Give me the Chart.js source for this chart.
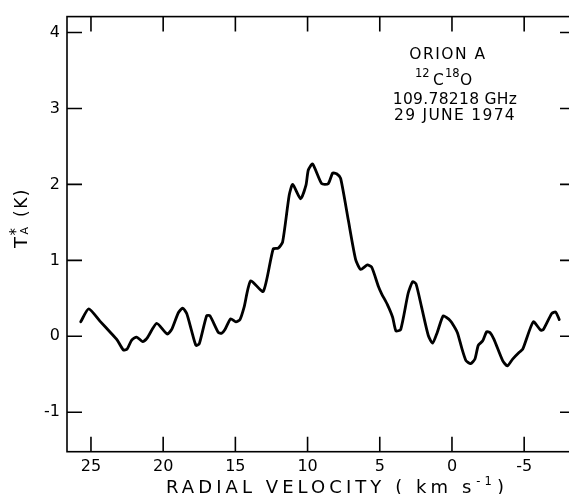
<!DOCTYPE html>
<html><head><meta charset="utf-8">
<script src="https://cdn.jsdelivr.net/npm/chart.js@4"></script>
<style>
html,body{margin:0;padding:0;background:#fff;overflow:hidden;}
#wrap{width:569px;height:494px;overflow:hidden;position:relative;}
canvas{display:block;}
</style>
</head><body>
<div id="wrap"><canvas id="c" width="590" height="494"></canvas></div>
<script>
// Radial velocity (km/s) and antenna temperature T*A (K)
const velocity = [25.71,25.16,24.38,23.65,23.18,22.76,22.50,22.18,21.84,21.42,21.10,20.45,19.72,19.41,18.95,18.65,18.37,18.03,17.73,17.50,16.99,16.76,16.18,15.95,15.72,15.33,14.96,14.68,14.40,13.94,13.07,12.38,12.03,11.73,11.27,11.03,10.48,10.11,9.95,9.65,9.02,8.57,8.26,7.99,7.71,7.18,6.67,6.32,5.86,5.56,5.10,4.87,4.48,4.11,3.88,3.55,3.03,2.72,2.49,2.10,1.64,1.34,1.02,0.60,0.19,0.02,-0.37,-0.67,-0.97,-1.29,-1.59,-1.82,-2.13,-2.40,-2.63,-2.91,-3.51,-3.83,-4.20,-4.66,-4.90,-5.63,-6.14,-6.33,-6.91,-7.18,-7.43];
const antennaTemp = [0.19,0.36,0.20,0.05,-0.05,-0.18,-0.17,-0.05,-0.01,-0.07,-0.02,0.17,0.03,0.09,0.31,0.37,0.30,0.07,-0.12,-0.10,0.27,0.27,0.05,0.04,0.09,0.23,0.19,0.22,0.38,0.73,0.59,1.15,1.16,1.24,1.86,2.00,1.81,1.99,2.19,2.27,2.01,2.01,2.15,2.14,2.08,1.53,1.01,0.88,0.94,0.91,0.66,0.56,0.42,0.25,0.07,0.09,0.57,0.72,0.69,0.38,0.01,-0.09,0.05,0.27,0.22,0.18,0.05,-0.15,-0.32,-0.36,-0.30,-0.12,-0.06,0.06,0.05,-0.04,-0.32,-0.39,-0.30,-0.21,-0.17,0.19,0.08,0.09,0.30,0.32,0.22];
const xTickValues = [25,20,15,10,5,0,-5];
const yTickValues = [-1,0,1,2,3,4];
const xRange = [-8.52, 26.66];
const yRange = [-1.52, 4.21];
const xTitleMain = "RADIAL VELOCITY ( km s";
const xTitleSup = "-1";
const xTitleEnd = ")";
const yTitle = ["T", "*", "A", "(K)"];
const noteLines = ["ORION A", "109.78218 GHz", "29 JUNE 1974"];
const isotope = ["12", "C", "18", "O"];

const FONT = '"DejaVu Sans", sans-serif';
const points = velocity.map((v, i) => ({x: v, y: antennaTemp[i]}));

const framePlugin = {
  id: 'frame',
  afterDatasetsDraw(chart) {
    const {ctx, chartArea: a, scales: {x, y}} = chart;
    ctx.save();
    ctx.strokeStyle = '#000';
    ctx.lineWidth = 1.6;
    ctx.strokeRect(a.left, a.top, a.right - a.left, a.bottom - a.top);
    ctx.beginPath();
    x.ticks.forEach(t => {
      const p = x.getPixelForValue(t.value);
      ctx.moveTo(p, a.bottom); ctx.lineTo(p, a.bottom - 15);
      ctx.moveTo(p, a.top); ctx.lineTo(p, a.top + 15);
    });
    y.ticks.forEach(t => {
      const p = y.getPixelForValue(t.value);
      ctx.moveTo(a.left, p); ctx.lineTo(a.left + 15, p);
      ctx.moveTo(a.right, p); ctx.lineTo(a.right - 15, p);
    });
    ctx.stroke();

    ctx.fillStyle = '#000';
    // annotation
    ctx.textBaseline = 'alphabetic';
    ctx.textAlign = 'center';
    ctx.font = '15.5px ' + FONT;
    ctx.letterSpacing = '1.5px';
    ctx.fillText(noteLines[0], 448, 59);
    ctx.letterSpacing = '0.3px';
    ctx.fillText(noteLines[1], 455, 104);
    ctx.letterSpacing = '1.3px';
    ctx.fillText(noteLines[2], 455, 120);
    ctx.textAlign = 'left';
    ctx.letterSpacing = '0px';
    ctx.font = '11.5px ' + FONT; ctx.fillText(isotope[0], 415, 77);
    ctx.font = '15.5px ' + FONT; ctx.fillText(isotope[1], 433, 85);
    ctx.font = '11.5px ' + FONT; ctx.fillText(isotope[2], 445, 77);
    ctx.font = '15.5px ' + FONT; ctx.fillText(isotope[3], 460, 85);

    // x title
    const mainF = '18px ' + FONT, supF = '11.5px ' + FONT;
    ctx.font = mainF; const w1 = ctx.measureText(xTitleMain).width; const w3 = ctx.measureText(xTitleEnd).width;
    ctx.font = supF; const w2 = ctx.measureText(xTitleSup).width;
    const nChars = xTitleMain.length + xTitleSup.length + xTitleEnd.length;
    const ls = Math.max(0, (342 - (w1 + w2 + w3 + 2)) / nChars);
    let cx = 166;
    ctx.letterSpacing = ls + 'px';
    ctx.font = mainF; ctx.fillText(xTitleMain, cx, 492.5); cx += w1 + ls * xTitleMain.length + 1;
    ctx.font = supF; ctx.fillText(xTitleSup, cx, 485); cx += w2 + ls * xTitleSup.length + 1;
    ctx.font = mainF; ctx.fillText(xTitleEnd, cx, 492.5);
    ctx.letterSpacing = '0px';

    // y title
    ctx.save();
    ctx.translate(27, 248);
    ctx.rotate(-Math.PI / 2);
    ctx.font = '18px ' + FONT;
    ctx.fillText(yTitle[0], 0, 0);
    ctx.font = '15px ' + FONT;
    ctx.fillText(yTitle[1], 12.5, -6);
    ctx.font = '11px ' + FONT;
    ctx.fillText(yTitle[2], 13.5, 1);
    ctx.font = '17px ' + FONT;
    ctx.letterSpacing = '1.5px';
    ctx.fillText(yTitle[3], 31, 0);
    ctx.restore();
    ctx.restore();
  }
};

new Chart(document.getElementById('c'), {
  type: 'line',
  data: { datasets: [{
    data: points,
    borderColor: '#000',
    borderWidth: 2.8,
    pointRadius: 0,
    tension: 0.2,
    fill: false,
    borderJoinStyle: 'round',
    borderCapStyle: 'round'
  }]},
  options: {
    responsive: false,
    animation: false,
    devicePixelRatio: 1,
    layout: { padding: { top: 13.5, right: 15, left: 0, bottom: 0 } },
    plugins: { legend: { display: false }, tooltip: { enabled: false } },
    scales: {
      x: {
        type: 'linear', reverse: true, min: xRange[0], max: xRange[1],
        afterBuildTicks(s) { s.ticks = xTickValues.map(v => ({value: v})); },
        afterFit(s) { s.height = 42.3; },
        grid: { display: false, drawTicks: false },
        border: { display: false },
        ticks: { color: '#000', font: { family: FONT, size: 16 }, padding: 6, maxRotation: 0, autoSkip: false, callback: v => String(v) }
      },
      y: {
        type: 'linear', min: yRange[0], max: yRange[1],
        afterBuildTicks(s) { s.ticks = yTickValues.map(v => ({value: v})); },
        afterFit(s) { s.width = 67; },
        grid: { display: false, drawTicks: false },
        border: { display: false },
        ticks: { color: '#000', font: { family: FONT, size: 16 }, padding: 7, autoSkip: false, callback: v => String(v) }
      }
    }
  },
  plugins: [framePlugin]
});
</script>
</body></html>
